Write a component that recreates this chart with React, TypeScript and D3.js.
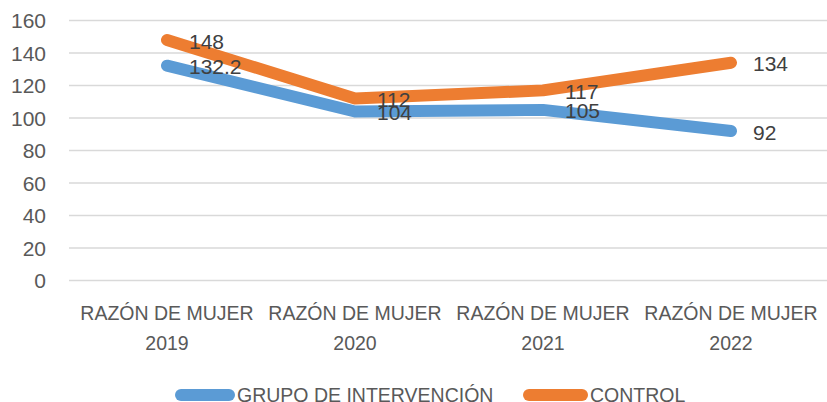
import React from "react";
import * as d3 from "d3";

const categories = ["RAZÓN DE MUJER 2019", "RAZÓN DE MUJER 2020", "RAZÓN DE MUJER 2021", "RAZÓN DE MUJER 2022"];
const intervencion = [132.2, 104, 105, 92];
const control = [148, 112, 117, 134];
const intervencionLabels = ["132.2", "104", "105", "92"];
const controlLabels = ["148", "112", "117", "134"];
const yTicks = [0, 20, 40, 60, 80, 100, 120, 140, 160];
const seriesNames = ["GRUPO DE INTERVENCIÓN", "CONTROL"];

const W = 827, H = 402;
const FONT = "'Liberation Sans', Arial, sans-serif";
const BLUE = "#5B9BD5";
const ORANGE = "#ED7D31";

export default function App() {
  const x = d3.scaleBand<string>().domain(categories).range([73, 825]);
  const y = d3.scaleLinear().domain([0, 160]).range([280.5, 20.5]);
  const cx = (c: string) => (x(c) as number) + x.bandwidth() / 2;
  const line = d3.line<number>().x((_, i) => cx(categories[i])).y((d) => y(d));

  const series = [
    { name: seriesNames[0], vals: intervencion, labels: intervencionLabels, color: BLUE },
    { name: seriesNames[1], vals: control, labels: controlLabels, color: ORANGE },
  ];

  return (
    <svg width={W} height={H} style={{ position: "absolute", left: 0, top: 0, background: "#fff" }}>
      {yTicks.map((t) => (
        <g key={t}>
          <line x1={69} x2={827} y1={y(t)} y2={y(t)} stroke="#D9D9D9" strokeWidth={1.5} />
          <text x={46} y={y(t)} dy="0.36em" textAnchor="end" fontFamily={FONT} fontSize={21} fill="#595959">{t}</text>
        </g>
      ))}
      {categories.map((c) => {
        const parts = c.split(" ");
        const l2 = parts.pop();
        return (
          <text key={c} x={cx(c)} textAnchor="middle" fontFamily={FONT} fontSize={19.5} fill="#595959">
            <tspan x={cx(c)} y={320}>{parts.join(" ")}</tspan>
            <tspan x={cx(c)} y={350}>{l2}</tspan>
          </text>
        );
      })}
      {series.map((s) => (
        <path key={s.name} d={line(s.vals) || ""} fill="none" stroke={s.color} strokeWidth={12} strokeLinecap="round" strokeLinejoin="round" />
      ))}
      {series.map((s) =>
        s.vals.map((v, i) => (
          <text key={s.name + i} x={cx(categories[i]) + 22} y={y(v) + 1} dy="0.36em" fontFamily={FONT} fontSize={21} fill="#404040">{s.labels[i]}</text>
        ))
      )}
      <g>
        <line x1={181} x2={229} y1={395} y2={395} stroke={BLUE} strokeWidth={12} strokeLinecap="round" />
        <text x={237} y={395} dy="0.36em" fontFamily={FONT} fontSize={19.5} fill="#595959">{seriesNames[0]}</text>
        <line x1={529} x2={582} y1={395} y2={395} stroke={ORANGE} strokeWidth={12} strokeLinecap="round" />
        <text x={590} y={395} dy="0.36em" fontFamily={FONT} fontSize={19.5} fill="#595959">{seriesNames[1]}</text>
      </g>
    </svg>
  );
}
